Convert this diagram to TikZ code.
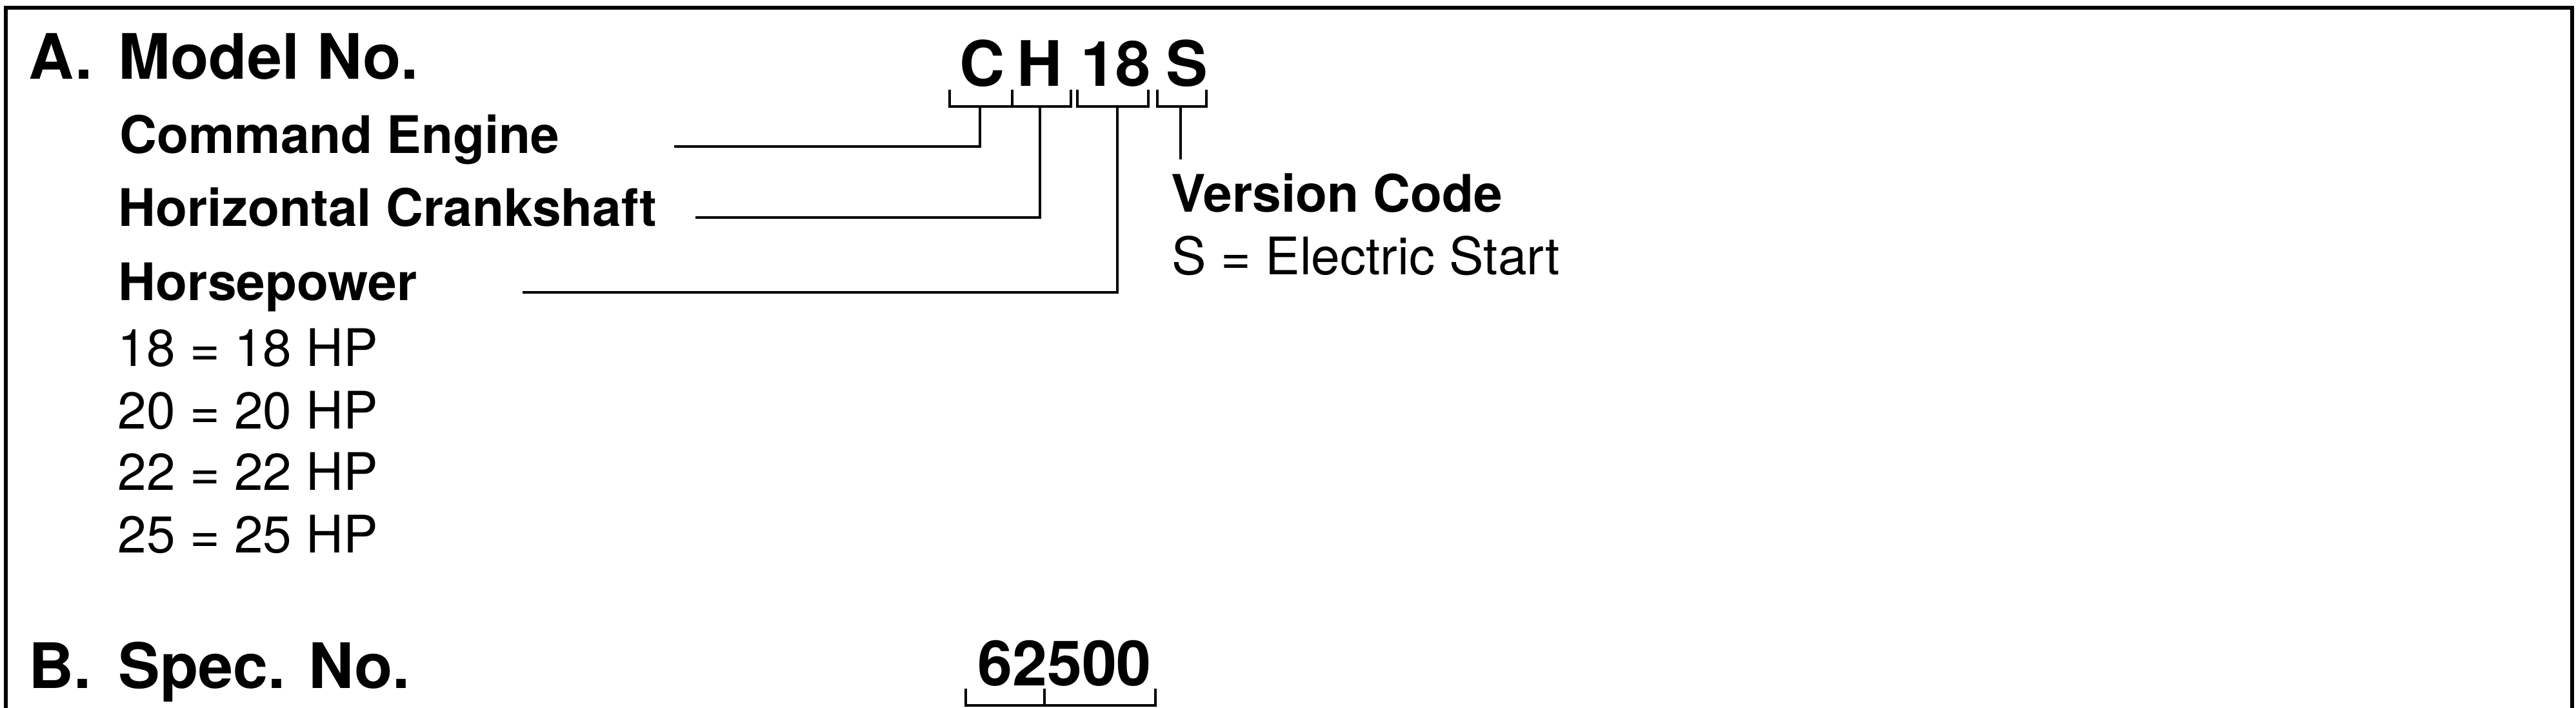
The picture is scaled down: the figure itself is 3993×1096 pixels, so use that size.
\documentclass[tikz,border=0pt]{standalone}
\usepackage{fontspec}
\setmainfont{TeX Gyre Heros}
\begin{document}
\begin{tikzpicture}[x=0.01cm,y=-0.01cm,
  txt/.style={inner sep=0pt, anchor=base west},
  ctr/.style={inner sep=0pt, anchor=base},
  big/.style={font=\fontsize{27.6}{30}\selectfont\bfseries},
  med/.style={font=\fontsize{22.8}{26}\selectfont\bfseries},
  reg/.style={font=\fontsize{22.8}{26}\selectfont},
  frame/.style={line width=1.7pt},
  conn/.style={line width=1.4pt},
  brk/.style={line width=1pt},
  thinline/.style={line width=0.9pt}]
\useasboundingbox (0,0) rectangle (3993,1096);
% frame (open at the bottom)
\draw[frame] (9,1100) -- (9,12) -- (3987,12) -- (3987,1100);

% section A
\node[txt,big] (A) at (44,122) {A.};
\node[txt,big] (model) at (183,122) {Model No.};
\node[txt,med] (cmd) at (185,237) {Command Engine};
\node[txt,med] (hor) at (183,350) {Horizontal Crankshaft};
\node[txt,med] (hp) at (183,465) {Horsepower};
\node[txt,reg] (r18) at (182,567) {18 = 18 HP};
\node[txt,reg] (r20) at (182,664) {20 = 20 HP};
\node[txt,reg] (r22) at (182,759) {22 = 22 HP};
\node[txt,reg] (r25) at (182,856) {25 = 25 HP};

% model code letters
\node[ctr,big] (cC) at (1523,133) {C};
\node[ctr,big] (cH) at (1612,133) {H};
\node[ctr,big] (c18) at (1729,133) {18};
\node[ctr,big] (cS) at (1840,133) {S};

% brackets under the letters
\draw[brk] (1472,139) -- (1472,165) -- (1569,165) -- (1569,139);
\draw[brk] (1569,165) -- (1660,165) -- (1660,139);
\draw[brk] (1670,139) -- (1670,165) -- (1780,165) -- (1780,139);
\draw[brk] (1794,139) -- (1794,165) -- (1870,165) -- (1870,139);

\coordinate (bC) at (1519,165);
\coordinate (bH) at (1612,165);
\coordinate (b18) at (1732,165);
\coordinate (bS) at (1830,165);
\coordinate (eC) at (1045,227);
\coordinate (eH) at (1078,337);
\coordinate (e18) at (810,453);
\coordinate (eS) at (1830,247);

\draw[conn] (bC) |- (eC);
\draw[conn] (bH) |- (eH);
\draw[conn] (b18) |- (e18);
\draw[thinline] (bS) -- (eS);

\node[txt,med] (ver) at (1815,328) {Version Code};
\node[txt,reg] (elec) at (1816,425) {S = Electric Start};

% section B
\node[txt,big] (B) at (44,1066) {B.};
\node[txt,big] (spec) at (183,1066) {Spec. No.};
\node[ctr,big] (num) at (1650,1062) {62500};
\draw[brk] (1497,1067) -- (1497,1093) -- (1791,1093) -- (1791,1067);
\draw[brk] (1619,1067) -- (1619,1093);
\end{tikzpicture}
\end{document}
